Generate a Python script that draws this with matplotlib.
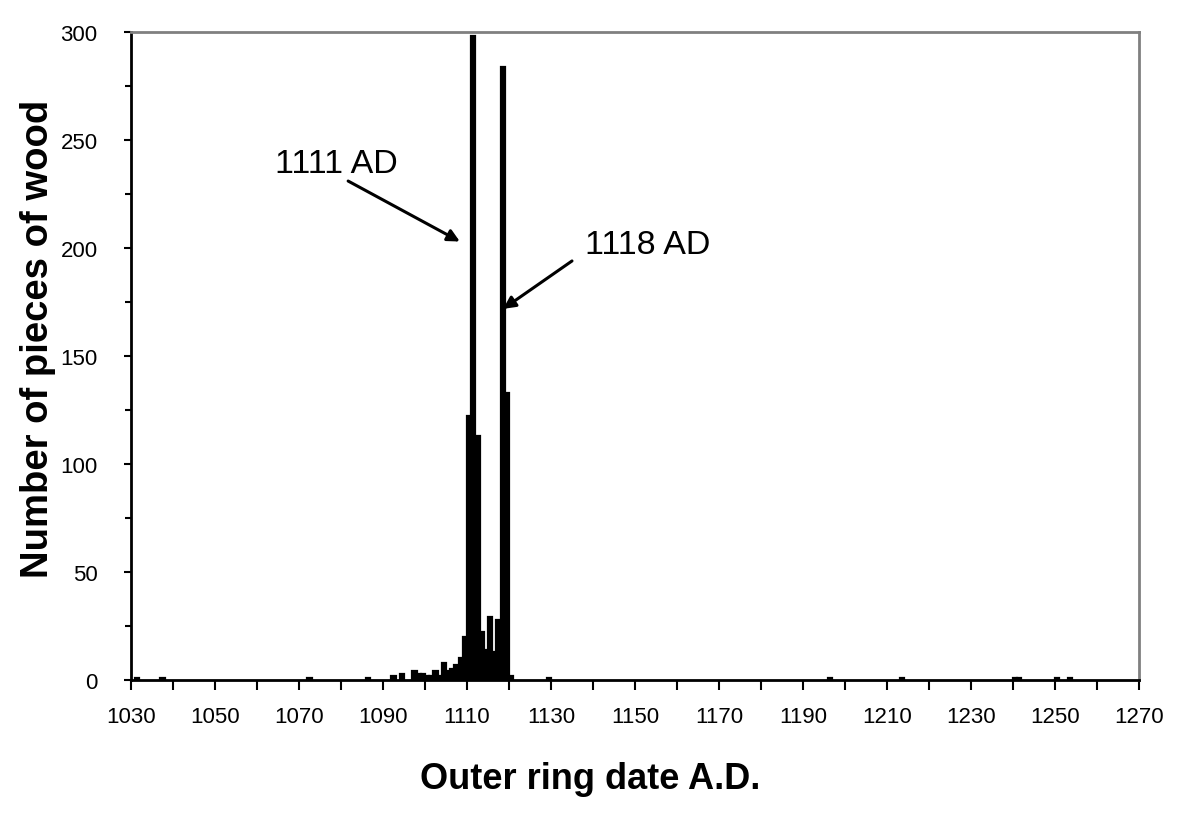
import matplotlib
matplotlib.use("Agg")
import matplotlib.pyplot as plt
from matplotlib.ticker import MultipleLocator, FixedLocator

plt.rcParams['font.family'] = ['Liberation Sans', 'DejaVu Sans']

# Outer ring dates (A.D.) and number of pieces of wood
years = [1031, 1037, 1072, 1086, 1092, 1094, 1097, 1098, 1099, 1100, 1101, 1102,
         1103, 1104, 1105, 1106, 1107, 1108, 1109, 1110, 1111, 1112, 1113, 1114,
         1115, 1116, 1117, 1118, 1119, 1120, 1129, 1196, 1213, 1240, 1241, 1250, 1253]
counts = [1, 1, 1, 1, 2, 3, 4, 3, 3, 2, 2, 4,
          2, 8, 4, 5, 7, 10, 20, 122, 298, 113, 22, 14,
          29, 13, 28, 284, 133, 2, 1, 1, 1, 1, 1, 1, 1]

x_ticklabels = [str(v) for v in range(1030, 1271, 20)]
y_ticklabels = ['0', '50', '100', '150', '200', '250', '300']

annotations = [("1111 AD", 1111), ("1118 AD", 1118)]

fig = plt.figure(figsize=(11.91, 8.20), dpi=100)
ax = fig.add_axes([131/1191, 1-681/820, (1139-131)/1191, (681-33)/820])

ax.bar(years, counts, width=1.0, align='edge', color='black',
       edgecolor='black', linewidth=1.6)

ax.set_xlim(1030, 1270)
ax.set_ylim(0, 300)

ax.xaxis.set_major_locator(FixedLocator(list(range(1030, 1271, 20))))
ax.set_xticklabels(x_ticklabels)
ax.xaxis.set_minor_locator(FixedLocator(list(range(1040, 1271, 20))))
ax.yaxis.set_major_locator(FixedLocator(list(range(0, 301, 50))))
ax.set_yticklabels(y_ticklabels)
ax.yaxis.set_minor_locator(MultipleLocator(25))

ax.tick_params(axis='x', which='both', direction='out', length=7, width=1.5,
               labelsize=16, pad=12, color='black')
ax.tick_params(axis='y', which='major', direction='out', length=5, width=1.5,
               labelsize=16, pad=19, color='black')
ax.tick_params(axis='y', which='minor', direction='out', length=4, width=1.5)

for s in ['left', 'bottom']:
    ax.spines[s].set_color('black')
    ax.spines[s].set_linewidth(2)
for s in ['top', 'right']:
    ax.spines[s].set_color('#808080')
    ax.spines[s].set_linewidth(2)

ax.set_xlabel('Outer ring date A.D.', fontsize=26, fontweight='bold')
ax.xaxis.set_label_coords((590-131)/1008, -(762-681)/648)
ax.set_ylabel('Number of pieces of wood', fontsize=27.5, fontweight='bold')
ax.yaxis.set_label_coords(-(131-56)/1008, (681-339)/648)

# annotations
ax.text(1064.3, 238.9, annotations[0][0], fontsize=24.5, va='center', ha='left')
ax.annotate("", xy=(1108.3, 203), xytext=(1081.7, 231),
            arrowprops=dict(arrowstyle='-|>', color='black', lw=2.2, mutation_scale=18,
                            shrinkA=0, shrinkB=0))
ax.text(1138.1, 201.4, annotations[1][0], fontsize=24.5, va='center', ha='left')
ax.annotate("", xy=(1118.6, 171.8), xytext=(1135, 194),
            arrowprops=dict(arrowstyle='-|>', color='black', lw=2.2, mutation_scale=18,
                            shrinkA=0, shrinkB=0))

fig.savefig('out.png', dpi=100, facecolor='white')
